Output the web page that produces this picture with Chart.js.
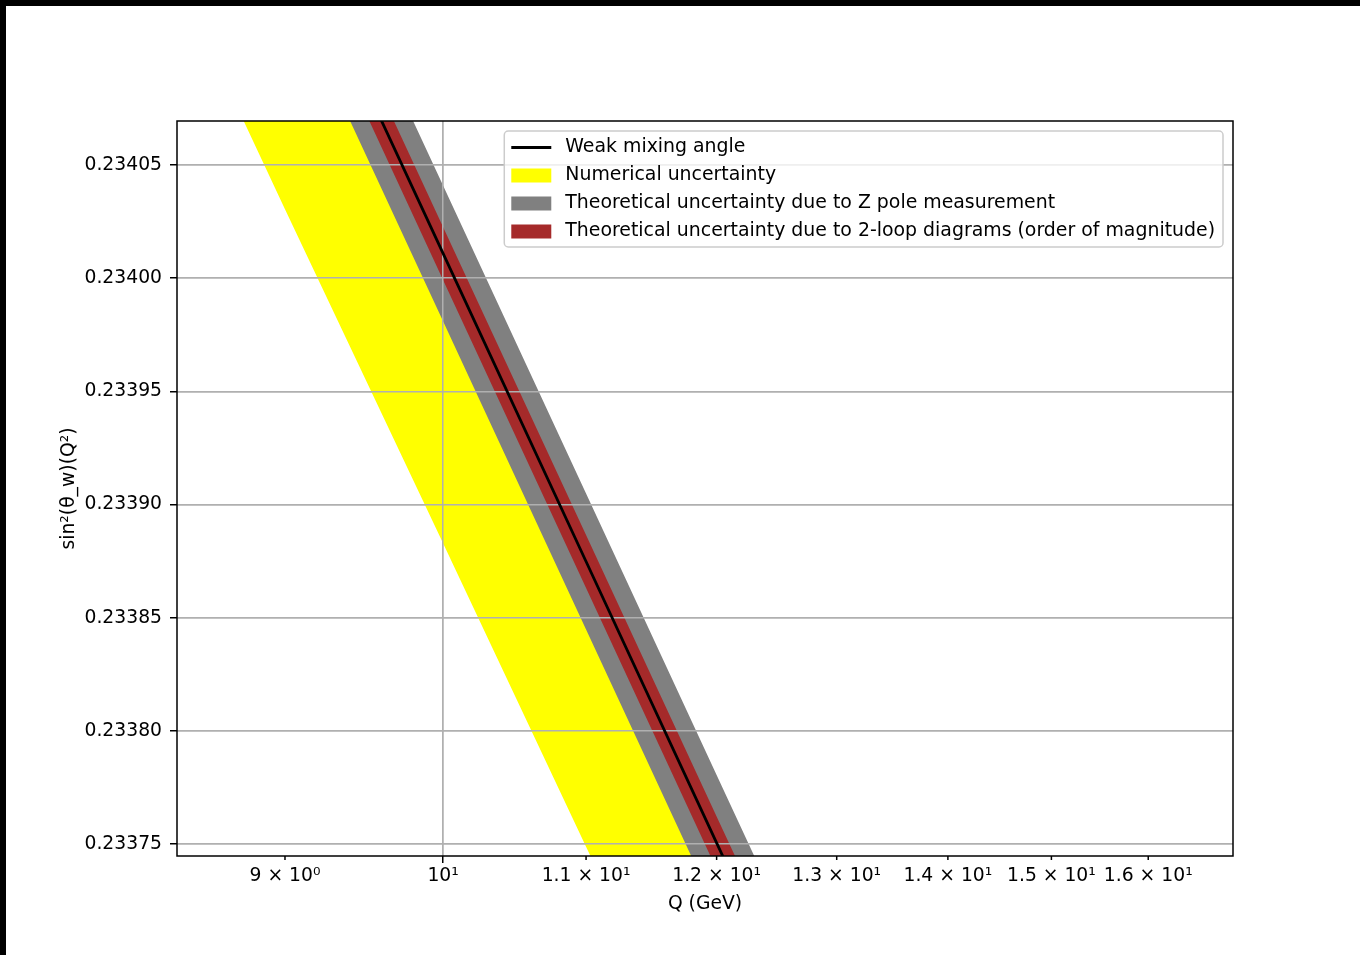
<!DOCTYPE html>
<html>
<head>
<meta charset="utf-8">
<script src="https://cdn.jsdelivr.net/npm/chart.js@4/dist/chart.umd.min.js"></script>
<style>
  html, body { margin: 0; padding: 0; background: #000; }
  #wrap { position: absolute; left: 6px; top: 6px; width: 1354px; height: 949px; background: #fff; }
  canvas { display: block; }
</style>
</head>
<body>
<div id="wrap"><canvas id="c" width="1354" height="949"></canvas></div>
<script>
// Energy scale Q (GeV)
const qValues = [8.3, 9, 10, 11, 12, 13];

// Running weak mixing angle sin²θ_w(Q²)
const mixingAngle   = [0.2342771, 0.2341614, 0.2340109, 0.2338748, 0.2337505, 0.2336363];

// Numerical uncertainty (band below the central curve)
const numericalUpper = [0.2342771, 0.2341614, 0.2340109, 0.2338748, 0.2337505, 0.2336363];
const numericalLower = [0.2341451, 0.2340304, 0.2338829, 0.2337488, 0.2336269, 0.2335143];

// Theoretical uncertainty from the Z pole measurement
const zPoleUpper = [0.2343071, 0.2341914, 0.2340409, 0.2339048, 0.2337805, 0.2336663];
const zPoleLower = [0.2342471, 0.2341314, 0.2339809, 0.2338448, 0.2337205, 0.2336063];

// Theoretical uncertainty from 2-loop diagrams (order of magnitude)
const loopUpper = [0.2342888, 0.2341731, 0.2340226, 0.2338865, 0.2337622, 0.2336480];
const loopLower = [0.2342654, 0.2341497, 0.2339992, 0.2338631, 0.2337388, 0.2336246];

// Axis ticks
const xTickValues = [9, 10, 11, 12, 13, 14, 15, 16];
const xTickLabels = ['9 × 10⁰', '10¹', '1.1 × 10¹', '1.2 × 10¹', '1.3 × 10¹', '1.4 × 10¹', '1.5 × 10¹', '1.6 × 10¹'];
const xMajorTick = 10;
const yTickValues = [0.23375, 0.23380, 0.23385, 0.23390, 0.23395, 0.23400, 0.23405];

// Axis limits
const xMin = 8.375, xMax = 16.93;
const yMin = 0.2337447, yMax = 0.2340694;

const FONT = 'DejaVu Sans';
const FS = 18.75;
const LEGEND_FS = 18.9;
Chart.defaults.font.family = FONT;
Chart.defaults.font.size = FS;
Chart.defaults.color = '#000';

const pts = arr => qValues.map((q, i) => ({ x: q, y: arr[i] }));

function band(label, arr, color, fillTo, order, legendIndex) {
  return {
    label, data: pts(arr),
    borderColor: 'rgba(0,0,0,0)', borderWidth: 0,
    backgroundColor: color, fill: fillTo,
    pointRadius: 0, order, clip: 0,
    legendKind: 'patch', legendIndex
  };
}

const datasets = [
  { label: 'Weak mixing angle', data: pts(mixingAngle), borderColor: '#000000', borderWidth: 2.8,
    backgroundColor: '#000000', pointRadius: 0, fill: false, order: 0, clip: 0,
    legendKind: 'line', legendIndex: 0 },
  band('Theoretical uncertainty due to 2-loop diagrams (order of magnitude)', loopUpper, '#a52a2a', '+1', 1, 3),
  band('', loopLower, '#a52a2a', false, 1),
  band('Theoretical uncertainty due to Z pole measurement', zPoleUpper, '#808080', '+1', 2, 2),
  band('', zPoleLower, '#808080', false, 2),
  band('Numerical uncertainty', numericalUpper, '#ffff00', '+1', 3, 1),
  band('', numericalLower, '#ffff00', false, 3)
];

// Grid lines sit above the filled bands but below the central curve
const gridOverBands = {
  id: 'gridOverBands',
  beforeDatasetDraw(chart, args) {
    if (args.index !== 0) return;
    const a = chart.chartArea, ctx = chart.ctx;
    ctx.save();
    ctx.beginPath();
    ctx.rect(a.left, a.top, a.right - a.left, a.bottom - a.top);
    ctx.clip();
    chart.scales.x.drawGrid(a);
    chart.scales.y.drawGrid(a);
    ctx.restore();
  }
};

// Axes frame and short minor ticks on the log axis
const frameAndMinorTicks = {
  id: 'frameAndMinorTicks',
  afterDatasetsDraw(chart) {
    const a = chart.chartArea, ctx = chart.ctx, xs = chart.scales.x;
    ctx.save();
    ctx.strokeStyle = '#000';
    ctx.lineWidth = 1.5;
    xTickValues.forEach(v => {
      if (v === xMajorTick) return;
      const px = xs.getPixelForValue(v);
      ctx.beginPath();
      ctx.moveTo(px, a.bottom);
      ctx.lineTo(px, a.bottom + 4);
      ctx.stroke();
    });
    ctx.strokeRect(a.left, a.top, a.right - a.left, a.bottom - a.top);
    ctx.restore();
  }
};

// Legend box in the upper right of the plot
const legendBox = {
  id: 'legendBox',
  afterDraw(chart) {
    const ctx = chart.ctx, a = chart.chartArea;
    const items = chart.data.datasets.filter(d => d.label).sort((p, q) => p.legendIndex - q.legendIndex);
    ctx.save();
    ctx.font = LEGEND_FS + 'px "' + FONT + '"';
    const textW = Math.max(...items.map(d => ctx.measureText(d.label).width));
    const handleW = 40, gap = 14, padL = 7, padR = 8, rowH = 28, padT = 16.5, padB = 15.5;
    const right = a.right - 10, top = a.top + 10;
    const w = padL + handleW + gap + textW + padR;
    const h = padT + rowH * (items.length - 1) + padB;
    const left = right - w, bottom = top + h, r = 4;
    ctx.beginPath();
    ctx.moveTo(left + r, top);
    ctx.lineTo(right - r, top);
    ctx.arcTo(right, top, right, top + r, r);
    ctx.lineTo(right, bottom - r);
    ctx.arcTo(right, bottom, right - r, bottom, r);
    ctx.lineTo(left + r, bottom);
    ctx.arcTo(left, bottom, left, bottom - r, r);
    ctx.lineTo(left, top + r);
    ctx.arcTo(left, top, left + r, top, r);
    ctx.closePath();
    ctx.fillStyle = 'rgba(255,255,255,0.8)';
    ctx.fill();
    ctx.strokeStyle = '#cccccc';
    ctx.lineWidth = 1.5;
    ctx.stroke();
    items.forEach((d, i) => {
      const cy = top + padT + i * rowH;
      const hx = left + padL;
      if (d.legendKind === 'line') {
        ctx.strokeStyle = d.borderColor;
        ctx.lineWidth = d.borderWidth;
        ctx.beginPath();
        ctx.moveTo(hx, cy);
        ctx.lineTo(hx + handleW, cy);
        ctx.stroke();
      } else {
        ctx.fillStyle = d.backgroundColor;
        ctx.fillRect(hx, cy - 7, handleW, 14);
      }
      ctx.fillStyle = '#000';
      ctx.textAlign = 'left';
      ctx.textBaseline = 'middle';
      ctx.fillText(d.label, hx + handleW + gap, cy);
    });
    ctx.restore();
  }
};

new Chart(document.getElementById('c'), {
  type: 'line',
  data: { datasets },
  options: {
    responsive: false,
    animation: false,
    layout: { padding: { top: 115, right: 127, bottom: 0, left: 0 } },
    plugins: { legend: { display: false }, tooltip: { enabled: false } },
    elements: { line: { tension: 0 } },
    scales: {
      x: {
        type: 'logarithmic',
        min: xMin, max: xMax,
        afterBuildTicks(scale) {
          scale.ticks = xTickValues.map(v => ({ value: v, major: v === xMajorTick }));
        },
        afterFit(scale) { scale.height = 99; },
        ticks: {
          autoSkip: false, maxRotation: 0, minRotation: 0, padding: 2,
          font: { size: FS },
          callback: (value, index) => xTickLabels[index]
        },
        grid: {
          color: ctx => (ctx.tick && ctx.tick.value === xMajorTick) ? '#b0b0b0' : 'rgba(0,0,0,0)',
          lineWidth: 1.5,
          tickColor: ctx => (ctx.tick && ctx.tick.value === xMajorTick) ? '#000' : 'rgba(0,0,0,0)',
          tickWidth: 1.5,
          tickLength: 7,
          drawTicks: true
        },
        border: { display: false },
        title: { display: true, text: 'Q (GeV)', font: { size: FS }, padding: { top: 0, bottom: 40 } }
      },
      y: {
        type: 'linear',
        min: yMin, max: yMax,
        afterBuildTicks(scale) {
          scale.ticks = yTickValues.map(v => ({ value: v }));
        },
        afterFit(scale) { scale.width = 171; },
        ticks: {
          padding: 8,
          font: { size: FS },
          callback: value => Number(value).toFixed(5)
        },
        grid: {
          color: '#b0b0b0',
          lineWidth: 1.5,
          tickColor: '#000',
          tickWidth: 1.5,
          tickLength: 7
        },
        border: { display: false },
        title: { display: true, text: 'sin²(θ_w)(Q²)', font: { size: FS }, padding: { top: 52, bottom: 0 } }
      }
    }
  },
  plugins: [gridOverBands, frameAndMinorTicks, legendBox]
});
</script>
</body>
</html>
